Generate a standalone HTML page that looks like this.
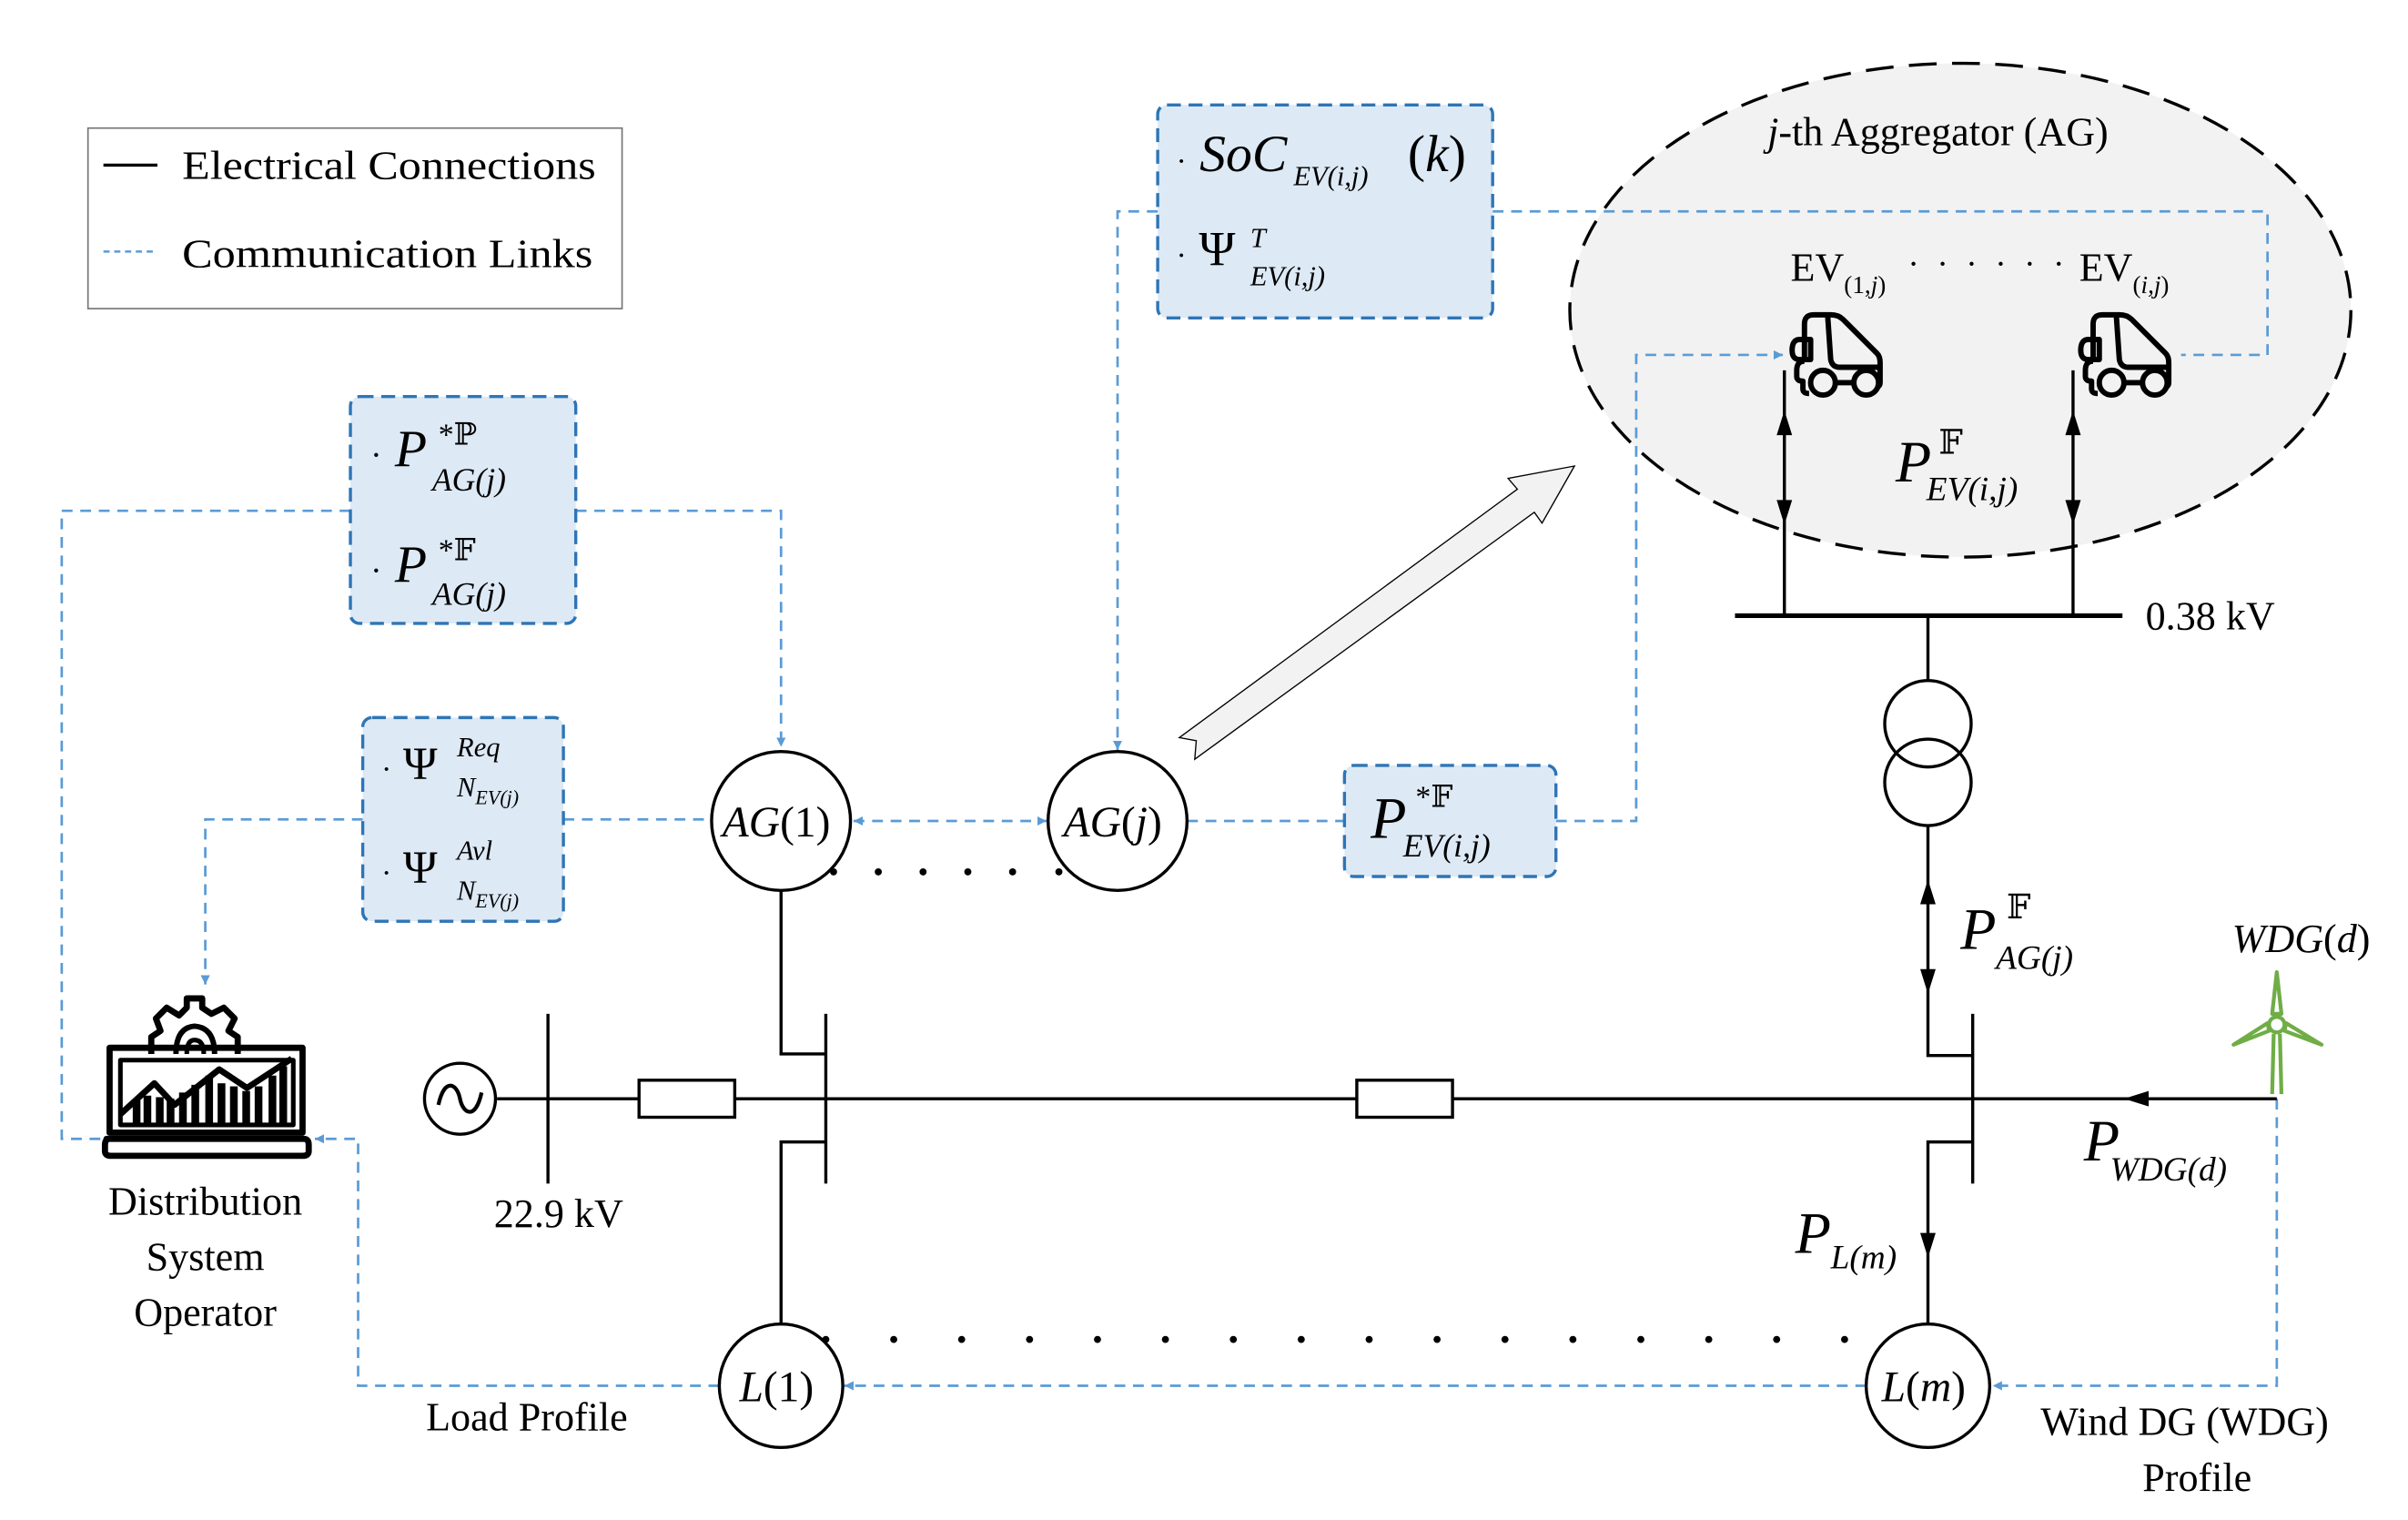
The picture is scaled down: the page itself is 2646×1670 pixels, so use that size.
<!DOCTYPE html>
<html><head><meta charset="utf-8"><style>
html,body{margin:0;padding:0;background:#fff}
svg{display:block;font-family:"Liberation Serif","DejaVu Serif",serif}
text{font-family:"Liberation Serif","DejaVu Serif",serif;fill:#000}
.it{font-style:italic}
</style></head><body>
<svg width="2646" height="1670" viewBox="0 0 1560 985" preserveAspectRatio="none" xmlns="http://www.w3.org/2000/svg" font-family="Liberation Serif, DejaVu Serif, serif">
<defs>
<marker id="ba" viewBox="0 0 10 10" refX="10" refY="5" markerWidth="6" markerHeight="6" orient="auto-start-reverse" markerUnits="userSpaceOnUse"><path d="M0,0 L10,5 L0,10 z" fill="#5b9bd5"/></marker>
</defs>
<ellipse cx="1270" cy="201" rx="253" ry="160" fill="#f2f2f2" stroke="#000" stroke-width="2" stroke-dasharray="18,10"/>
<text x="1145" y="94" font-size="26"><tspan class="it">j</tspan>-th Aggregator (AG)</text>
<text x="1160" y="182" font-size="26">EV<tspan font-size="16" dy="8">(1,<tspan class="it">j</tspan>)</tspan></text>
<text x="1236" y="178" font-size="22" letter-spacing="3">· · · · · ·</text>
<text x="1347" y="182" font-size="26">EV<tspan font-size="16" dy="8">(<tspan class="it">i,j</tspan>)</tspan></text>

<rect x="57" y="83" width="346" height="117" fill="#fff" stroke="#777" stroke-width="1"/>
<line x1="67" y1="107" x2="102" y2="107" stroke="#000" stroke-width="2"/>
<text x="118" y="116" font-size="26" textLength="268" lengthAdjust="spacingAndGlyphs">Electrical Connections</text>
<line x1="67" y1="163" x2="102" y2="163" stroke="#5b9bd5" stroke-width="1.5" stroke-dasharray="4,3"/>
<text x="118" y="173" font-size="26" textLength="266" lengthAdjust="spacingAndGlyphs">Communication Links</text>

<g fill="none" stroke="#5b9bd5" stroke-width="1.6" stroke-dasharray="7,5">
<path d="M227,331 H40 V738 H68"/>
<path d="M373,331 H506 V484" marker-end="url(#ba)"/>
<path d="M235,531 H133 V638" marker-end="url(#ba)"/>
<path d="M365,531 H461"/>
<path d="M553,532 H678" marker-start="url(#ba)" marker-end="url(#ba)"/>
<path d="M750,137 H724 V486" marker-end="url(#ba)"/>
<path d="M967,137 H1469 V230 H1413"/>
<path d="M769,532 H871"/>
<path d="M1008,532 H1060 V230 H1155" marker-end="url(#ba)"/>
<path d="M1475,712 V898 H1291" marker-end="url(#ba)"/>
<path d="M1209,898 H547" marker-end="url(#ba)"/>
<path d="M466,898 H232 V738 H204" marker-end="url(#ba)"/>
</g>

<g fill="#dde9f5" stroke="#2e75b6" stroke-width="2" stroke-dasharray="9,5">
<rect x="227" y="257" width="146" height="147" rx="6"/>
<rect x="235" y="465" width="130" height="132" rx="6"/>
<rect x="750" y="68" width="217" height="138" rx="6"/>
<rect x="871" y="496" width="137" height="72" rx="6"/>
</g>
<g font-size="34">
<text x="240" y="302"><tspan font-size="22">·</tspan> <tspan class="it">P</tspan></text>
<text x="284" y="288" font-size="20">*ℙ</text>
<text x="280" y="318" class="it" font-size="21">AG(j)</text>
<text x="240" y="377"><tspan font-size="22">·</tspan> <tspan class="it">P</tspan></text>
<text x="284" y="363" font-size="20">*𝔽</text>
<text x="280" y="392" class="it" font-size="21">AG(j)</text>
<text x="247" y="505" font-size="30"><tspan font-size="20">·</tspan> Ψ</text>
<text x="296" y="490" class="it" font-size="18">Req</text>
<text x="296" y="516" class="it" font-size="18">N<tspan font-size="13" dy="5">EV(j)</tspan></text>
<text x="247" y="572" font-size="30"><tspan font-size="20">·</tspan> Ψ</text>
<text x="296" y="557" class="it" font-size="18">Avl</text>
<text x="296" y="583" class="it" font-size="18">N<tspan font-size="13" dy="5">EV(j)</tspan></text>
<text x="762" y="111" font-size="34"><tspan font-size="20">·</tspan> <tspan class="it">SoC</tspan></text>
<text x="838" y="120" class="it" font-size="18">EV(i,j)</text>
<text x="912" y="111" font-size="34">(<tspan class="it">k</tspan>)</text>
<text x="762" y="172" font-size="32"><tspan font-size="20">·</tspan> Ψ</text>
<text x="810" y="160" class="it" font-size="18">T</text>
<text x="810" y="185" class="it" font-size="18">EV(i,j)</text>
<text x="888" y="543" class="it" font-size="38">P</text>
<text x="917" y="523" font-size="20">*𝔽</text>
<text x="909" y="555" class="it" font-size="21">EV(i,j)</text>
</g>

<path d="M764,478 L983,317 L977,310 L1020,302 L999,339 L994,332 L774,492 L775,480 Z" fill="#f2f2f2" stroke="#000" stroke-width="0.8"/>

<g stroke="#000" stroke-width="2" fill="none">
<line x1="322" y1="712" x2="1475" y2="712"/>
<circle cx="298" cy="712" r="23" fill="#fff"/>
<path d="M284,716 C288,698 296,702 298,712 C300,722 308,726 312,708" stroke-width="2.5"/>
<line x1="355" y1="657" x2="355" y2="767"/>
<rect x="414" y="700" width="62" height="24" fill="#fff"/>
<rect x="879" y="700" width="62" height="24" fill="#fff"/>
<line x1="535" y1="657" x2="535" y2="767"/>
<path d="M506,577 V683 H535"/>
<path d="M535,740 H506 V858"/>
<line x1="1278" y1="657" x2="1278" y2="767"/>
<path d="M1278,684 H1249 V535"/>
<path d="M1278,740 H1249 V858"/>
<line x1="1249" y1="398" x2="1249" y2="441"/>
<circle cx="1249" cy="469" r="28"/>
<circle cx="1249" cy="507" r="28"/>
<line x1="1124" y1="399" x2="1375" y2="399" stroke-width="3"/>
<line x1="1156" y1="399" x2="1156" y2="240"/>
<line x1="1343" y1="399" x2="1343" y2="240"/>
<circle cx="506" cy="532" r="45" fill="#fff"/>
<circle cx="724" cy="532" r="45" fill="#fff"/>
<circle cx="506" cy="898" r="40" fill="#fff"/>
<circle cx="1249" cy="898" r="40" fill="#fff"/>
</g>
<g fill="#000">
<path d="M1151,282 L1156,266 L1161,282 Z"/><path d="M1151,324 L1156,340 L1161,324 Z"/>
<path d="M1338,282 L1343,266 L1348,282 Z"/><path d="M1338,324 L1343,340 L1348,324 Z"/>
<path d="M1244,586 L1249,570 L1254,586 Z"/><path d="M1244,628 L1249,644 L1254,628 Z"/>
<path d="M1244,799 L1249,815 L1254,799 Z"/>
<path d="M1392,707 L1376,712 L1392,717 Z"/>
</g>
<g fill="#000">
<circle cx="540" cy="565" r="2.3"/><circle cx="569" cy="565" r="2.3"/><circle cx="598" cy="565" r="2.3"/><circle cx="627" cy="565" r="2.3"/><circle cx="656" cy="565" r="2.3"/><circle cx="686" cy="565" r="2.3"/>
<circle cx="535" cy="868" r="2.3"/><circle cx="579" cy="868" r="2.3"/><circle cx="623" cy="868" r="2.3"/><circle cx="667" cy="868" r="2.3"/><circle cx="711" cy="868" r="2.3"/><circle cx="755" cy="868" r="2.3"/><circle cx="799" cy="868" r="2.3"/><circle cx="843" cy="868" r="2.3"/><circle cx="887" cy="868" r="2.3"/><circle cx="931" cy="868" r="2.3"/><circle cx="975" cy="868" r="2.3"/><circle cx="1019" cy="868" r="2.3"/><circle cx="1063" cy="868" r="2.3"/><circle cx="1107" cy="868" r="2.3"/><circle cx="1151" cy="868" r="2.3"/><circle cx="1195" cy="868" r="2.3"/>
</g>
<g font-size="28">
<text x="468" y="542"><tspan class="it">AG</tspan>(1)</text>
<text x="689" y="542"><tspan class="it">AG</tspan>(<tspan class="it">j</tspan>)</text>
<text x="479" y="908"><tspan class="it">L</tspan>(1)</text>
<text x="1219" y="908"><tspan class="it">L</tspan>(<tspan class="it">m</tspan>)</text>
</g>

<g fill="none" stroke="#000" stroke-width="3.5" stroke-linejoin="round">
<g transform="translate(1156,200)">
<path d="M13,34 V10 Q13,4 19,4 H30 Q35,4 38,7 L60,29 Q62,31 62,35 V48 Q62,50 60,51"/>
<path d="M28,4 L30,33 Q31,38 36,38 H62"/>
<path d="M13,34 Q8,34 8,40 V44 Q8,47 12,47 V52 Q12,55 16,55"/>
<circle cx="25" cy="48" r="8"/><circle cx="53" cy="48" r="8"/>
<line x1="33" y1="48" x2="45" y2="48"/>
<path d="M17,20 H10 Q5,20 5,27 Q5,33 10,33 H17 Z"/>
</g>
<g transform="translate(1343,200)">
<path d="M13,34 V10 Q13,4 19,4 H30 Q35,4 38,7 L60,29 Q62,31 62,35 V48 Q62,50 60,51"/>
<path d="M28,4 L30,33 Q31,38 36,38 H62"/>
<path d="M13,34 Q8,34 8,40 V44 Q8,47 12,47 V52 Q12,55 16,55"/>
<circle cx="25" cy="48" r="8"/><circle cx="53" cy="48" r="8"/>
<line x1="33" y1="48" x2="45" y2="48"/>
<path d="M17,20 H10 Q5,20 5,27 Q5,33 10,33 H17 Z"/>
</g>
</g>

<g fill="none" stroke="#000" stroke-width="4" stroke-linejoin="round">
<path d="M98,683 V672 L104,668 L101,660 L108,653 L116,658 L121,653 V647 H131 V653 L137,657 L145,653 L152,660 L148,668 L154,672 V683"/>
<path d="M114,683 Q114,666 126,665 Q139,666 139,683" stroke-width="3.5"/>
<path d="M121,683 Q121,674 126,674 Q132,674 132,683" stroke-width="3"/>
<rect x="71" y="679" width="125" height="55" stroke-width="4"/>
<path d="M69,738 H197 Q200,738 200,742 V746 Q200,749 196,749 H72 Q68,749 68,746 V742 Q68,738 71,738 Z" stroke-width="4"/>
<path d="M78,729 H190 V687 H78 Z" stroke-width="3"/>
<path d="M78,722 L100,702 L113,716 L142,693 L160,705 L189,686" stroke-width="4"/>
</g>
<g fill="#000">
<rect x="86" y="713" width="5" height="17"/><rect x="93" y="710" width="5" height="20"/><rect x="101" y="711" width="5" height="19"/><rect x="108" y="712" width="5" height="18"/><rect x="116" y="708" width="5" height="22"/><rect x="124" y="703" width="5" height="27"/><rect x="133" y="697" width="5" height="33"/><rect x="141" y="702" width="5" height="28"/><rect x="149" y="704" width="5" height="26"/><rect x="157" y="707" width="5" height="23"/><rect x="165" y="704" width="5" height="26"/><rect x="174" y="697" width="5" height="33"/><rect x="181" y="691" width="5" height="39"/>
</g>

<g fill="none" stroke="#70ad47" stroke-width="2.5" stroke-linejoin="round">
<path d="M1472,709 L1473,670 M1478,709 L1477,670"/>
<path d="M1475,630 L1472,657 L1478,657 Z"/>
<path d="M1470,668 L1447,677 L1469,663 Z"/>
<path d="M1480,668 L1504,677 L1481,663 Z"/>
<circle cx="1475" cy="664" r="5" fill="#fff"/>
</g>

<text x="133" y="787" font-size="26" text-anchor="middle">Distribution</text>
<text x="133" y="823" font-size="26" text-anchor="middle">System</text>
<text x="133" y="859" font-size="26" text-anchor="middle">Operator</text>
<text x="320" y="795" font-size="26">22.9 kV</text>
<text x="276" y="927" font-size="26">Load Profile</text>
<text x="1322" y="930" font-size="26">Wind DG (WDG)</text>
<text x="1388" y="966" font-size="26">Profile</text>
<text x="1390" y="408" font-size="26">0.38 kV</text>
<text x="1446" y="617" font-size="26"><tspan class="it">WDG</tspan>(<tspan class="it">d</tspan>)</text>

<text x="1228" y="312" font-size="38" class="it">P</text>
<text x="1256" y="294" font-size="22">𝔽</text>
<text x="1248" y="324" font-size="22" class="it">EV(i,j)</text>

<text x="1270" y="615" font-size="38" class="it">P</text>
<text x="1300" y="595" font-size="22">𝔽</text>
<text x="1293" y="628" font-size="22" class="it">AG(j)</text>

<text x="1350" y="752" font-size="38" class="it">P</text>
<text x="1367" y="765" font-size="22" class="it">WDG(d)</text>

<text x="1163" y="812" font-size="38" class="it">P</text>
<text x="1186" y="822" font-size="22" class="it">L(m)</text>
</svg>
</body></html>
